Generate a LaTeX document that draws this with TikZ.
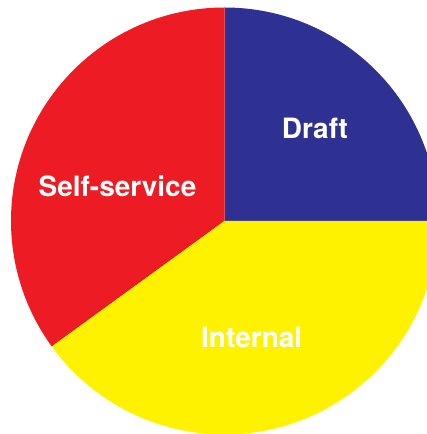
\documentclass[tikz,border=0pt]{standalone}
\usepackage{fontspec}
\setmainfont{TeX Gyre Heros}
\definecolor{pieblue}{HTML}{2E3192}
\definecolor{piered}{HTML}{ED1C24}
\definecolor{pieyellow}{HTML}{FFF200}
\tikzset{
  slicelabel/.style={text=white, font=\fontsize{28}{30}\selectfont\bfseries, inner sep=0pt, anchor=center}
}
\begin{document}
\begin{tikzpicture}[x=1pt,y=1pt]
\useasboundingbox (0,0) rectangle (427,434);
\clip (0,0) rectangle (427,434);
\fill[white] (0,0) rectangle (427,434);
\coordinate (c) at (224.5,213);
\def\R{213.5}
\fill[pieblue] (c) -- ++(0:\R) arc[start angle=0,end angle=90,radius=\R] -- cycle;
\fill[piered] (c) -- ++(90:\R) arc[start angle=90,end angle=216,radius=\R] -- cycle;
\fill[pieyellow] (c) -- ++(216:\R) arc[start angle=216,end angle=360,radius=\R] -- cycle;
\node[slicelabel] (draft) at (315,306) {Draft};
\node[slicelabel] (self) at (117.5,247.5) {Self-service};
\node[slicelabel] (internal) at (251.7,96.5) {Internal};
\end{tikzpicture}
\end{document}
